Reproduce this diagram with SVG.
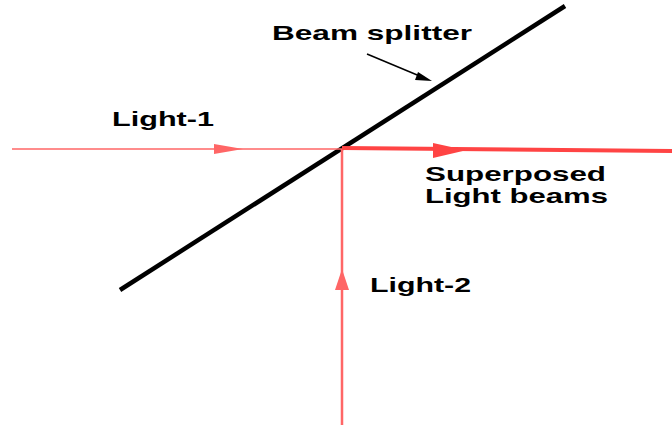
<svg xmlns="http://www.w3.org/2000/svg" width="672" height="430" viewBox="0 0 672 430">
<style>
text{font-family:"Liberation Sans",Arial,sans-serif;font-weight:bold;font-size:21px;fill:#000}
.beam{fill:none;stroke:#ff6666}
</style>
<rect width="672" height="430" fill="#fff"/>
<g id="splitter"><line x1="120" y1="290" x2="565" y2="6" stroke="#000" stroke-width="4.5"/></g>
<g id="connectors">
<line class="beam" x1="12" y1="149" x2="343" y2="149" stroke-width="1.5"/>
<polygon points="214,144 243,149 214,154" fill="#ff6666"/>
<line class="beam" x1="342" y1="425" x2="342" y2="149" stroke-width="2.5"/>
<polygon points="335,290 342,269 349,290" fill="#ff6666"/>
<line x1="342" y1="148" x2="672" y2="151" stroke="#ff4444" stroke-width="4"/>
<polygon points="433,143 466,150.3 433,158" fill="#ff4444"/>
<line x1="367" y1="54" x2="422" y2="77" stroke="#000" stroke-width="1.5"/>
<polygon points="418,72 432,81 415,80" fill="#000"/>
</g>
<g id="labels">
<text x="272" y="40" textLength="200" lengthAdjust="spacingAndGlyphs">Beam splitter</text>
<text x="112" y="126" textLength="102" lengthAdjust="spacingAndGlyphs">Light-1</text>
<text x="425" y="181" textLength="181" lengthAdjust="spacingAndGlyphs">Superposed</text>
<text x="425" y="203" textLength="183" lengthAdjust="spacingAndGlyphs">Light beams</text>
<text x="370" y="292" textLength="101" lengthAdjust="spacingAndGlyphs">Light-2</text>
</g>
</svg>
